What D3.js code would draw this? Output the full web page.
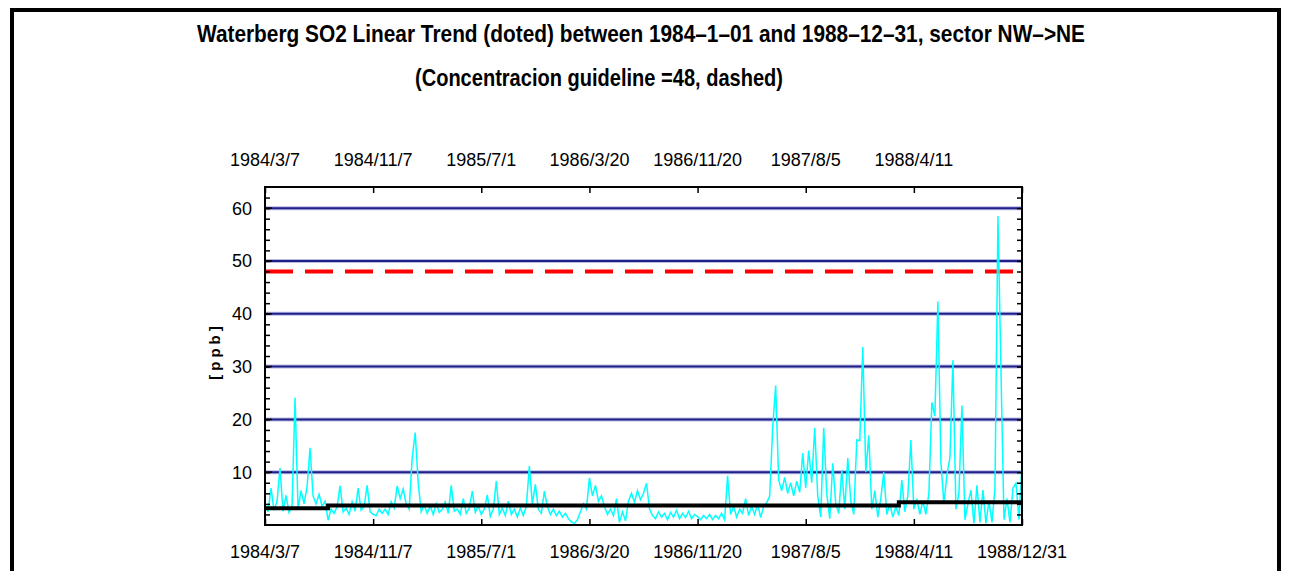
<!DOCTYPE html>
<html>
<head>
<meta charset="UTF-8" />
<title>Waterberg SO2 Linear Trend</title>
<script src="https://d3js.org/d3.v7.min.js"></script>
<style>
body { margin: 0; background: #fff; }
text { fill: #000; }
.title { font-family: "Liberation Sans Narrow", "Arial Narrow", "Liberation Sans", sans-serif; font-weight: bold; font-size: 24px; }
.tick-label { font-family: "Liberation Sans", Arial, sans-serif; font-size: 18px; }
.ylabel { font-family: "Liberation Sans", Arial, sans-serif; font-weight: bold; font-size: 15px; }
</style>
</head>
<body>
<script>
// tick labels along the time axis (evenly spaced in the original plot)
var topTickLabels = ["1984/3/7", "1984/11/7", "1985/7/1", "1986/3/20", "1986/11/20", "1987/8/5", "1988/4/11"];
var bottomTickLabels = ["1984/3/7", "1984/11/7", "1985/7/1", "1986/3/20", "1986/11/20", "1987/8/5", "1988/4/11", "1988/12/31"];
var gridValues = [10, 20, 30, 40, 50, 60];
var guideline = 48;

// SO2 concentration (ppb), sampled along the time axis
var so2 = [
  4.0, 2.5, 7.0, 2.8, 4.5, 10.8, 2.6, 5.6, 2.4, 3.5,
  24.1, 3.0, 6.5, 4.0, 7.2, 14.6, 5.5, 4.0, 5.8, 3.5,
  4.5, 0.9, 3.0, 2.2, 3.5, 7.4, 2.5, 3.2, 2.0, 4.4,
  2.6, 7.0, 2.8, 3.5, 7.5, 2.5, 2.0, 1.8, 3.0, 2.2,
  3.0, 2.0, 4.4, 3.2, 7.4, 5.0, 6.8, 4.0, 3.0, 12.7,
  17.5, 8.0, 2.5, 3.8, 2.2, 3.6, 2.0, 4.0, 2.4, 3.0,
  4.4, 2.2, 7.5, 2.6, 3.0, 2.0, 5.0, 2.2, 3.2, 6.4,
  2.4, 3.6, 2.0, 3.0, 5.7, 1.6, 3.0, 8.3, 2.0, 3.2,
  1.8, 4.5, 2.0, 3.0, 1.5, 3.2, 1.8, 3.5, 11.2, 4.0,
  7.7, 3.0, 2.2, 6.4, 3.5, 2.0, 3.0, 1.8, 2.6, 1.5,
  2.2, 1.2, 0.6, 0.3, 1.0, 2.5, 4.0, 3.0, 8.9, 5.5,
  7.5, 4.5, 5.5, 3.5, 2.0, 3.0, 1.8, 5.0, 0.5, 2.5,
  0.8, 4.5, 6.0, 4.3, 6.5, 4.8, 6.0, 7.9, 3.0, 1.8,
  1.2, 2.5, 1.5, 2.2, 1.0, 2.4, 1.5, 2.8, 1.2, 2.2,
  1.4, 2.6, 1.2, 2.0, 1.6, 1.0, 1.8, 1.2, 2.0, 1.0,
  1.8, 1.2, 2.2, 1.0, 9.3, 2.0, 3.5, 1.5, 3.0, 2.2,
  5.0, 1.8, 3.5, 2.0, 4.0, 1.4, 3.5, 4.2, 5.5, 18.4,
  26.4, 8.5, 6.5, 9.0, 6.0, 8.0, 5.5, 8.3, 6.2, 13.6,
  7.0, 14.1, 8.0, 18.4, 5.5, 1.5, 18.4, 6.0, 1.2, 11.7,
  4.0, 2.2, 10.4, 3.0, 12.7, 4.5, 2.0, 16.1, 16.0, 33.7,
  10.0, 17.0, 3.0, 6.5, 1.5, 5.0, 10.0, 2.0, 4.0, 1.5,
  3.5, 1.8, 8.5, 2.5, 5.5, 16.1, 3.0, 5.0, 2.0, 4.5,
  2.0, 6.0, 23.2, 20.6, 42.3, 12.0, 4.0, 9.5, 12.7, 31.2,
  3.0, 6.0, 22.6, 1.0, 4.0, 6.6, 0.3, 7.5, 0.5, 6.6,
  0.3, 4.5, 0.5, 7.0, 58.5, 29.2, 1.0, 5.0, 0.5, 7.0,
  7.9, 1.0, 11.7
];

// linear trend, piecewise by period (sample index where each step starts)
var trendIndex = [0, 21, 211, 252];
var trendValue = [3.15, 3.7, 4.3, 4.3];

var W = 1289, H = 571;
var margin = {top: 187, left: 265},
    width = 757,
    height = 338;

var svg = d3.select("body").append("svg")
  .attr("width", W)
  .attr("height", H);

// outer frame
svg.append("rect")
  .attr("x", 12).attr("y", 10)
  .attr("width", 1267).attr("height", 600)
  .attr("fill", "none")
  .attr("stroke", "#000")
  .attr("stroke-width", 4);

// titles
svg.append("text")
  .attr("class", "title")
  .attr("x", 641).attr("y", 42)
  .attr("text-anchor", "middle")
  .attr("textLength", 888)
  .attr("lengthAdjust", "spacingAndGlyphs")
  .text("Waterberg SO2 Linear Trend (doted) between 1984\u20131\u201301  and 1988\u201312\u201331, sector NW\u2013>NE");

svg.append("text")
  .attr("class", "title")
  .attr("x", 599).attr("y", 86)
  .attr("text-anchor", "middle")
  .attr("textLength", 368)
  .attr("lengthAdjust", "spacingAndGlyphs")
  .text("(Concentracion guideline =48, dashed)");

var g = svg.append("g")
  .attr("transform", "translate(" + margin.left + "," + margin.top + ")");

var x = d3.scaleLinear().domain([0, so2.length - 1]).range([0, width]);
var y = d3.scaleLinear().domain([0, 64]).range([height, 0]);

// tick positions: equally spaced across the axis
var tickPos = bottomTickLabels.map(function(d, i) { return i * (so2.length - 1) / (bottomTickLabels.length - 1); });

// grid lines
gridValues.forEach(function(v) {
  g.append("line")
    .attr("x1", 0).attr("x2", width)
    .attr("y1", y(v)).attr("y2", y(v))
    .attr("stroke", "#b9b9e2").attr("stroke-width", 4);
  g.append("line")
    .attr("x1", 0).attr("x2", width)
    .attr("y1", y(v)).attr("y2", y(v))
    .attr("stroke", "#1f1f8a").attr("stroke-width", 2);
});

// guideline
g.append("line")
  .attr("x1", 0).attr("x2", width)
  .attr("y1", y(guideline)).attr("y2", y(guideline))
  .attr("stroke", "#ff0000")
  .attr("stroke-width", 4)
  .attr("stroke-dasharray", "28,12");

g.append("clipPath").attr("id", "clip")
  .append("rect").attr("width", width).attr("height", height);

// SO2 series
var line = d3.line()
  .x(function(d, i) { return x(i); })
  .y(function(d) { return y(d); });

g.append("path")
  .datum(so2)
  .attr("clip-path", "url(#clip)")
  .attr("fill", "none")
  .attr("stroke", "#00ffff")
  .attr("stroke-width", 1.5)
  .attr("d", line);

// trend
var trendLine = d3.line()
  .curve(d3.curveStepAfter)
  .x(function(d) { return x(d); })
  .y(function(d, i) { return y(trendValue[i]); });

g.append("path")
  .datum(trendIndex)
  .attr("fill", "none")
  .attr("stroke", "#000")
  .attr("stroke-width", 4)
  .attr("d", trendLine);

// axes with inward ticks
var yTicks = d3.range(2, 64, 2);
var yAxisL = d3.axisLeft(y).tickValues(yTicks).tickSize(-5).tickFormat("");
var yAxisR = d3.axisRight(y).tickValues(yTicks).tickSize(-5).tickFormat("");
g.append("g").call(yAxisL);
g.append("g").attr("transform", "translate(" + width + ",0)").call(yAxisR);

var xAxisTop = d3.axisTop(x).tickValues(tickPos).tickSize(-6).tickFormat("");
var xAxisBottom = d3.axisBottom(x).tickValues(tickPos).tickSize(-6).tickFormat("");
g.append("g").call(xAxisTop);
g.append("g").attr("transform", "translate(0," + height + ")").call(xAxisBottom);

g.selectAll(".domain").remove();
g.selectAll(".tick line").attr("stroke", "#000").attr("stroke-width", 1.5);

// major y ticks a little longer
g.selectAll(".majorTick")
  .data(gridValues).enter()
  .append("line")
  .attr("x1", 0).attr("x2", 7)
  .attr("y1", function(d) { return y(d); }).attr("y2", function(d) { return y(d); })
  .attr("stroke", "#000").attr("stroke-width", 1.5);

// plot frame
g.append("rect")
  .attr("width", width).attr("height", height)
  .attr("fill", "none")
  .attr("stroke", "#000")
  .attr("stroke-width", 2);

// tick labels
g.selectAll(".ylab")
  .data(gridValues).enter()
  .append("text")
  .attr("class", "tick-label")
  .attr("x", -13)
  .attr("y", function(d) { return y(d); })
  .attr("dy", "0.36em")
  .attr("text-anchor", "end")
  .text(function(d) { return d; });

g.selectAll(".toplab")
  .data(topTickLabels).enter()
  .append("text")
  .attr("class", "tick-label")
  .attr("x", function(d, i) { return x(tickPos[i]); })
  .attr("y", -21)
  .attr("text-anchor", "middle")
  .text(function(d) { return d; });

g.selectAll(".botlab")
  .data(bottomTickLabels).enter()
  .append("text")
  .attr("class", "tick-label")
  .attr("x", function(d, i) { return x(tickPos[i]); })
  .attr("y", height + 33)
  .attr("text-anchor", "middle")
  .text(function(d) { return d; });

// y axis title
svg.append("text")
  .attr("class", "ylabel")
  .attr("transform", "translate(220,351) rotate(-90)")
  .attr("text-anchor", "middle")
  .attr("letter-spacing", "4px")
  .text("[ppb]");
</script>
</body>
</html>
